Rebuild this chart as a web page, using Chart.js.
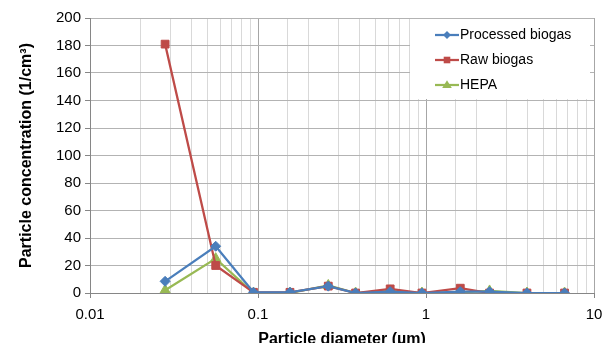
<!DOCTYPE html>
<html><head><meta charset="utf-8">
<script src="https://cdn.jsdelivr.net/npm/chart.js@4/dist/chart.umd.min.js"></script>
<style>html,body{margin:0;padding:0;background:#fff;overflow:hidden}#wrap{width:603px;height:343px;position:relative}</style>
</head><body><div id="wrap"><canvas id="c"></canvas></div>
<script>
const diameters = [0.028, 0.056, 0.094, 0.155, 0.262, 0.381, 0.612, 0.946, 1.6, 2.39, 3.99, 6.68];
const processedBiogas = [8.5, 34, 0.5, 0.5, 5, 0, 1, 0, 1, 1, 0, 0];
const rawBiogas = [181, 20, 0.5, 0.5, 5, 0, 3, 0, 3.5, 0, 0, 0];
const hepa = [2, 25, 0, 0, 5.5, 0, 1.5, 0, 0.5, 1.5, 0, 0];
const xTickLabels = ['0.01', '0.1', '1', '10'];
const seriesNames = ['Processed biogas', 'Raw biogas', 'HEPA'];

const FONT = "'Liberation Sans', Arial, sans-serif";
const colors = ['#4A7EBB', '#BE4B48', '#98B954'];
const shapes = ['rectRot', 'rect', 'triangle'];
const radii = [5, 5.5, 6];
const allVals = [processedBiogas, rawBiogas, hepa];

const datasets = allVals.map((vals, i) => ({
  label: seriesNames[i],
  data: diameters.map((d, j) => ({x: d, y: vals[j]})),
  borderColor: colors[i],
  backgroundColor: colors[i],
  borderWidth: 2.25,
  pointStyle: shapes[i],
  pointRadius: radii[i],
  pointBorderWidth: 1,
  tension: 0
}));

const isDecade = v => Math.abs(Math.log10(v) - Math.round(Math.log10(v))) < 1e-6;

const legendPlugin = {
  id: 'boxLegend',
  afterDraw(chart) {
    const ctx = chart.ctx;
    const a = chart.chartArea;
    const x0 = 410, y0 = a.top + 1, w = 180, h = 80;
    ctx.save();
    ctx.fillStyle = '#fff';
    ctx.fillRect(x0, y0, w, h);
    ctx.font = "14px " + FONT;
    ctx.textBaseline = 'middle';
    const rows = [35, 60, 85];
    rows.forEach((ry, i) => {
      ctx.strokeStyle = colors[i];
      ctx.lineWidth = 2.25;
      ctx.beginPath(); ctx.moveTo(435, ry); ctx.lineTo(459, ry); ctx.stroke();
      ctx.fillStyle = colors[i];
      const cx = 447, r = radii[i] * 0.8;
      ctx.beginPath();
      if (shapes[i] === 'rectRot') { ctx.moveTo(cx, ry - r); ctx.lineTo(cx + r, ry); ctx.lineTo(cx, ry + r); ctx.lineTo(cx - r, ry); }
      else if (shapes[i] === 'rect') { ctx.rect(cx - r * 0.75, ry - r * 0.75, r * 1.5, r * 1.5); }
      else { ctx.moveTo(cx, ry - r); ctx.lineTo(cx + r, ry + r * 0.6); ctx.lineTo(cx - r, ry + r * 0.6); }
      ctx.closePath(); ctx.fill();
      ctx.fillStyle = '#000';
      ctx.fillText(seriesNames[i], 460, ry);
    });
    ctx.restore();
  }
};

new Chart(document.getElementById('c'), {
  type: 'line',
  data: { datasets },
  plugins: [legendPlugin],
  options: {
    responsive: true,
    maintainAspectRatio: false,
    animation: false,
    layout: { padding: { left: 0, right: 9, top: 18, bottom: 0 } },
    plugins: { legend: { display: false }, tooltip: { enabled: false } },
    scales: {
      x: {
        type: 'logarithmic',
        min: 0.01, max: 10,
        afterFit(s) { s.height = 50; s.paddingRight = 0; s.paddingLeft = 0; },
        grid: {
          color: c => (c.tick && isDecade(c.tick.value)) ? '#A6A6A6' : '#D9D9D9',
          tickColor: c => (c.tick && isDecade(c.tick.value)) ? '#868686' : 'rgba(0,0,0,0)',
          tickLength: 5
        },
        border: { color: '#868686', width: 1 },
        ticks: {
          autoSkip: false, maxRotation: 0, color: '#000',
          font: { family: FONT, size: 15 },
          padding: 8,
          callback(v) {
            if (!isDecade(v)) return '';
            const k = Math.round(Math.log10(v)) + 2;
            return xTickLabels[k];
          }
        },
        title: {
          display: true, text: 'Particle diameter (µm)', color: '#000',
          font: { family: FONT, size: 16, weight: 'bold' },
          padding: { top: 0, bottom: -6 }
        }
      },
      y: {
        min: 0, max: 200,
        afterFit(s) { s.width = 90; },
        grid: { color: '#B3B3B3', tickLength: 5, tickColor: '#868686' },
        border: { color: '#868686', width: 1 },
        ticks: { stepSize: 20, color: '#000', font: { family: FONT, size: 15 }, padding: 4 },
        title: {
          display: true, text: 'Particle concentration (1/cm³)', color: '#000',
          font: { family: FONT, size: 16, weight: 'bold' },
          padding: { top: 17, bottom: 4 }
        }
      }
    }
  }
});
</script></body></html>
